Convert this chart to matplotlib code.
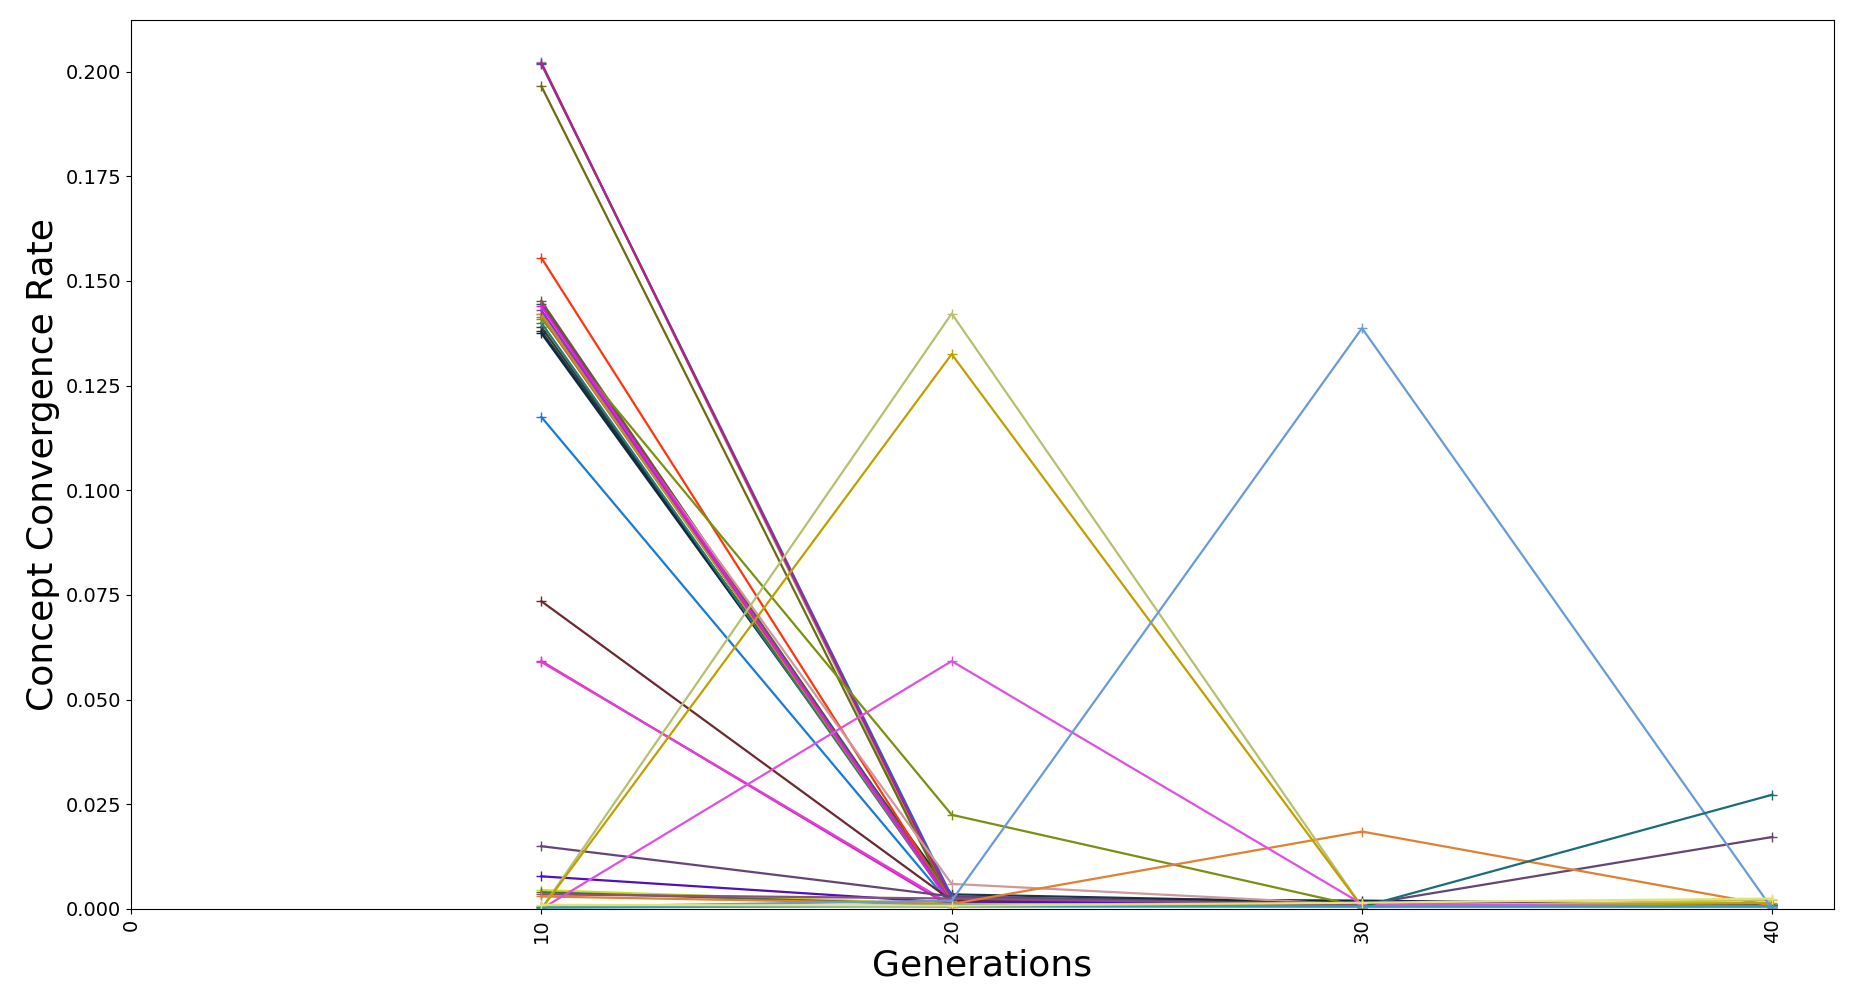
import matplotlib
matplotlib.use("Agg")
import matplotlib.pyplot as plt

generations = [10, 20, 30, 40]

s_grey = [0.2022, 0.0010, 0.0005, 0.0005]
s_violetred = [0.2020, 0.0020, 0.0010, 0.0008]
s_blue = [0.2018, 0.0030, 0.0008, 0.0006]
s_olive = [0.1965, 0.0010, 0.0005, 0.0010]
s_orangered = [0.1555, 0.0015, 0.0005, 0.0005]
s_brownolive = [0.1452, 0.0010, 0.0006, 0.0006]
s_slate1 = [0.1445, 0.0020, 0.0008, 0.0007]
s_magenta1 = [0.1440, 0.0010, 0.0005, 0.0005]
s_purple = [0.1430, 0.0015, 0.0007, 0.0006]
s_gold1 = [0.1420, 0.0012, 0.0006, 0.0008]
s_rosy = [0.1420, 0.0060, 0.0010, 0.0005]
s_copper = [0.1415, 0.0020, 0.0008, 0.0006]
s_olivegreen = [0.1410, 0.0225, 0.0005, 0.0012]
s_teal1 = [0.1400, 0.0010, 0.0006, 0.0007]
s_darkgrey = [0.1390, 0.0020, 0.0012, 0.0008]
s_slate2 = [0.1380, 0.0035, 0.0015, 0.0008]
s_navy = [0.1375, 0.0025, 0.0020, 0.0010]
s_dodger = [0.1175, 0.0008, 0.0005, 0.0005]
s_maroon = [0.0735, 0.0020, 0.0010, 0.0005]
s_magenta2 = [0.0592, 0.0005, 0.0005, 0.0005]
s_magenta3 = [0.0590, 0.0010, 0.0007, 0.0006]
s_dustypurple = [0.0150, 0.0030, 0.0010, 0.0172]
s_indigo = [0.0078, 0.0015, 0.0015, 0.0010]
s_yellowgreen = [0.0045, 0.0012, 0.0010, 0.0015]
s_darkgreen = [0.0040, 0.0010, 0.0008, 0.0010]
s_mauve = [0.0035, 0.0025, 0.0010, 0.0008]
s_orange = [0.0030, 0.0012, 0.0185, 0.0008]
s_khaki = [0.0000, 0.1422, 0.0005, 0.0022]
s_gold2 = [0.0000, 0.1325, 0.0005, 0.0015]
s_orchid = [0.0000, 0.0592, 0.0012, 0.0005]
s_cornflower = [0.0005, 0.0020, 0.1387, 0.0000]
s_teal2 = [0.0005, 0.0008, 0.0005, 0.0273]
s_lightgreen = [0.0008, 0.0005, 0.0005, 0.0005]
s_cyan = [0.0003, 0.0008, 0.0006, 0.0006]
s_paleyellow = [0.0010, 0.0008, 0.0015, 0.0025]

series = [
    (s_darkgrey, '#3a3a3a'), (s_slate2, '#183848'), (s_navy, '#102a40'),
    (s_slate1, '#2a5a6a'), (s_teal1, '#2a7a70'),
    (s_grey, '#a0a0a0'), (s_blue, '#2a5ae0'), (s_violetred, '#b8207a'),
    (s_olive, '#6b6b10'), (s_orangered, '#ff3510'), (s_brownolive, '#6b5a30'),
    (s_rosy, '#d09898'), (s_copper, '#b06a30'), (s_olivegreen, '#7a9010'),
    (s_gold1, '#c09020'), (s_purple, '#9a30c0'), (s_magenta1, '#e020e0'),
    (s_dodger, '#1a7ad8'),
    (s_maroon, '#6b2830'), (s_magenta2, '#d820c8'), (s_magenta3, '#e040d0'),
    (s_dustypurple, '#654577'), (s_indigo, '#5010c0'), (s_yellowgreen, '#c8e010'),
    (s_darkgreen, '#4a6a40'), (s_mauve, '#8a5080'), (s_orange, '#e08030'),
    (s_khaki, '#b8c070'), (s_gold2, '#c0a000'), (s_orchid, '#e050e0'),
    (s_cornflower, '#6a9ad8'), (s_teal2, '#1a6e78'), (s_lightgreen, '#90c060'),
    (s_cyan, '#30a0c0'), (s_paleyellow, '#e8e070'),
]

fig = plt.figure(figsize=(18.53, 10), dpi=100)
ax = fig.add_subplot(111)
fig.subplots_adjust(left=0.0707, right=0.9897, top=0.98, bottom=0.091)

for vals, col in series:
    ax.plot(generations, vals, marker='+', color=col, linewidth=1.6, markersize=7)

ax.set_xlim(left=0)
ax.set_ylim(bottom=0)
ax.set_xticks([0, 10, 20, 30, 40])
ax.tick_params(axis='x', labelrotation=90, labelsize=14)
ax.tick_params(axis='y', labelsize=14)
ax.set_xlabel('Generations', fontsize=26)
ax.set_ylabel('Concept Convergence Rate', fontsize=26)

fig.savefig('out.png', dpi=100)
